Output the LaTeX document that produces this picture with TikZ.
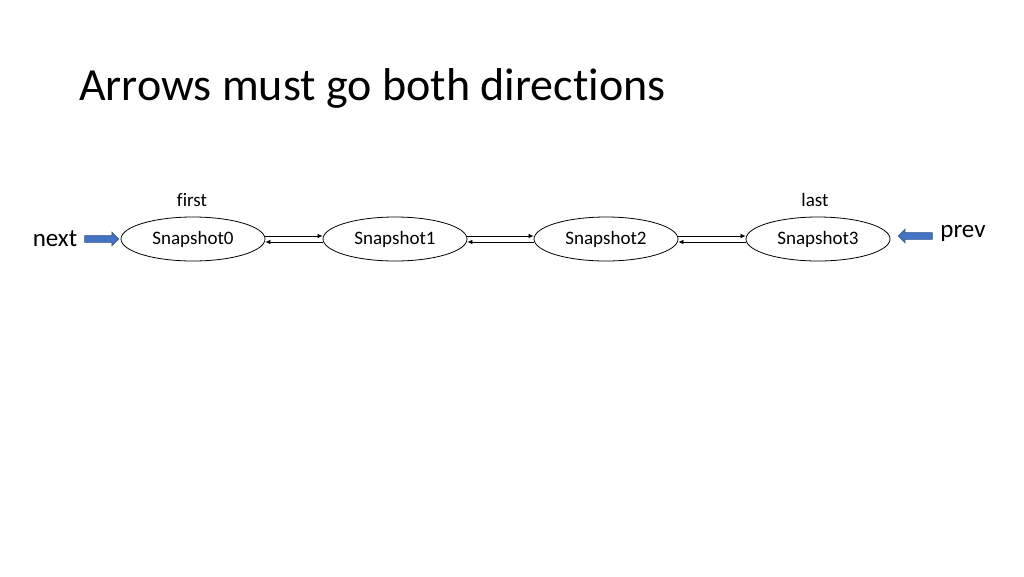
\documentclass[tikz,border=0pt]{standalone}
\usepackage{fontspec}
\setmainfont{Carlito}[Ligatures=NoCommon]
\usetikzlibrary{shapes.geometric, shapes.arrows, arrows.meta}
\definecolor{blockblue}{HTML}{4472C4}
\definecolor{blockedge}{HTML}{2F528F}
\tikzset{
	snap/.style = {draw, ellipse, minimum width=144pt, minimum height=44pt, inner sep=0pt, line width=0.8pt, font=\fontsize{19}{22}\selectfont},
	link/.style = {-{Latex[length=5pt,width=4.5pt]}, line width=0.7pt},
	pointer/.style = {single arrow, fill=blockblue, draw=blockedge, line width=0.6pt, minimum height=34pt, inner sep=3pt, single arrow head extend=3.5pt}
}
\begin{document}
\begin{tikzpicture}[x=1pt, y=-1pt]
	\useasboundingbox (0,0) rectangle (1024,576);
	\node [anchor=base west, inner sep=0pt, font=\fontsize{46}{52}\selectfont] (title) at (79,100) {Arrows must go both directions};
	\node [snap] (s0) at (193,239) {Snapshot0};
	\node [snap] (s1) at (395,239) {Snapshot1};
	\node [snap] (s2) at (606,239) {Snapshot2};
	\node [snap] (s3) at (818,239) {Snapshot3};
	\node [font=\fontsize{19}{22}\selectfont] (first) at (192,200) {first};
	\node [font=\fontsize{19}{22}\selectfont] (last) at (815,200) {last};
	\node [font=\fontsize{25}{30}\selectfont] (next) at (55,239) {next};
	\node [font=\fontsize{25}{30}\selectfont] (prev) at (963,233) {prev};
	\node [pointer] (nextarrow) at (100,239) {};
	\node [pointer, shape border rotate=180] (prevarrow) at (917,236) {};
	\foreach \a/\b in {s0/s1, s1/s2, s2/s3} {
		\draw [link] ([yshift=3pt]\a.east) -- ([yshift=3pt]\b.west);
		\draw [link] ([yshift=-3pt]\b.west) -- ([yshift=-3pt]\a.east);
	}
\end{tikzpicture}
\end{document}
